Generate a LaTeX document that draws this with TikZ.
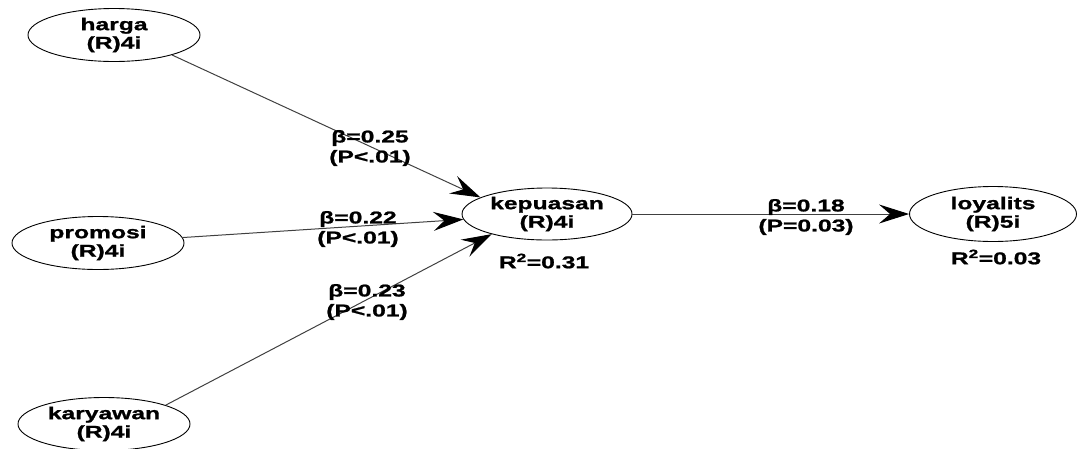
\documentclass[tikz,border=0pt]{standalone}
\usepackage{fontspec}
\setmainfont{Liberation Sans}[FakeStretch=1.45,BoldFeatures={FakeBold=1.2}]
\usetikzlibrary{positioning}
\usetikzlibrary{shapes,arrows.meta}

\tikzset{
  lv/.style={ellipse,draw=black,line width=0.9pt,inner sep=0pt,
    minimum width=172pt,minimum height=53pt,align=center,
    font=\fontsize{17}{18.5}\selectfont\bfseries},
  path/.style={draw=black!75,line width=1pt,
    -{Stealth[length=30pt,width=19pt,inset=11pt,black]}},
  est/.style={align=center,font=\fontsize{17}{20}\selectfont\bfseries},
}

\begin{document}
\begin{tikzpicture}[x=1pt,y=-1pt]
  \useasboundingbox (0,0) rectangle (1079,448);
  \node(harga) [lv] at (114,35) {harga\\(R)4i};
  \node(promosi) [lv] at (98,243) {promosi\\(R)4i};
  \node(karyawan) [lv] at (104,424) {karyawan\\(R)4i};
  \node(kepuasan) [lv,minimum width=170pt,minimum height=52pt] at (547,214) {kepuasan\\(R)4i};
  \node(loyalits) [lv,minimum width=167pt,minimum height=55pt] at (993,214) {loyalits\\(R)5i};
  \node(r2kep) [est] at (544,261) {R\textsuperscript{2}=0.31};
  \node(r2loy) [est] at (996,257) {R\textsuperscript{2}=0.03};
  \draw[path] (harga.-19) -- (kepuasan.166);
  \draw[path] (promosi) -- (kepuasan);
  \draw[path] (karyawan.17) -- (kepuasan.-160);
  \draw[path] (kepuasan) -- (loyalits);
  \node(b1) [est] at (370,148) {β=0.25\\(P<.01)};
  \node(b2) [est] at (358,229) {β=0.22\\(P<.01)};
  \node(b3) [est] at (367,302) {β=0.23\\(P<.01)};
  \node(b4) [est] at (806,217) {β=0.18\\(P=0.03)};
\end{tikzpicture}
\end{document}
